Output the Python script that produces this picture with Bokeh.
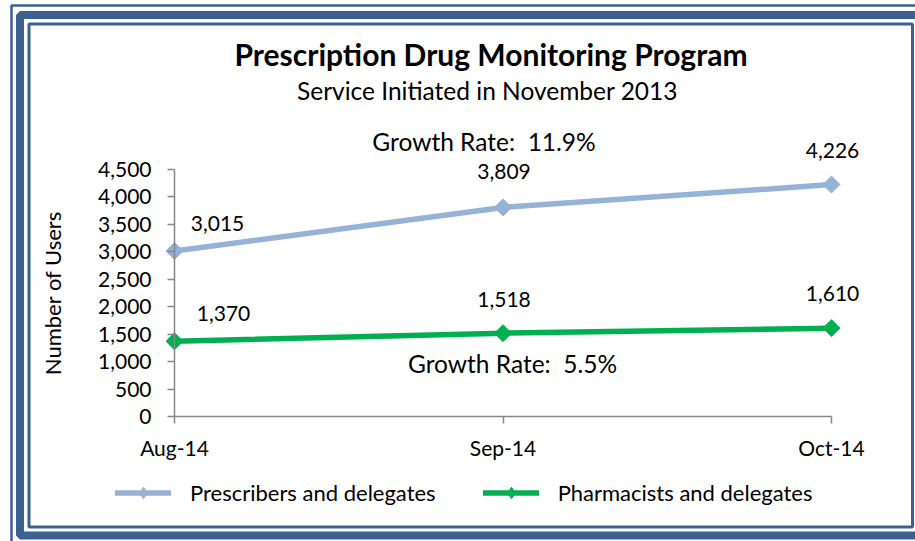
import math
from bokeh.plotting import figure
from bokeh.models import (Label, LabelSet, ColumnDataSource, Legend, LegendItem,
                          BoxAnnotation, FixedTicker, NumeralTickFormatter, Range1d)
from bokeh.core.properties import value
from bokeh.embed import file_html
from bokeh.resources import INLINE

# ---------------- data ----------------
months = ["Aug-14", "Sep-14", "Oct-14"]
prescribers = [3015, 3809, 4226]
pharmacists = [1370, 1518, 1610]
y_ticks = [0, 500, 1000, 1500, 2000, 2500, 3000, 3500, 4000, 4500]
series_names = ["Prescribers and delegates", "Pharmacists and delegates"]
title_text = "Prescription Drug Monitoring Program"
subtitle_text = "Service Initiated in November 2013"
growth_texts = ["Growth Rate:  11.9%", "Growth Rate:  5.5%"]
y_title = "Number of Users"

# ---------------- layout / style ----------------
FONT = "Lato"
W, H = 915, 541
# pixel positions of the axis corners on the canvas
AX_L, AX_R, AX_T, AX_B = 174, 831, 169, 416
BLUE = "#95B3D7"
GREEN = "#00B050"
AXIS = "#868686"
FRAME = "#3A6190"

xs = list(range(len(months)))
x_max = len(months) - 1
y_max = y_ticks[-1]
ppx = (AX_R - AX_L) / x_max          # pixels per x unit
ppy = (AX_B - AX_T) / y_max          # pixels per y unit


def data_x(px):
    return (px - AX_L) / ppx


def data_y(py):
    return (AX_B - py) / ppy


p = figure(width=W, height=H, output_backend="svg", toolbar_location=None,
           x_range=Range1d(data_x(0), data_x(W)), y_range=Range1d(data_y(H), data_y(0)),
           min_border=0, min_border_left=0, min_border_right=0,
           min_border_top=0, min_border_bottom=0)
p.outline_line_color = None
p.grid.visible = False
p.background_fill_color = "white"
p.border_fill_color = "white"

for ax in (p.xaxis[0], p.yaxis[0]):
    ax.axis_line_color = AXIS
    ax.axis_line_width = 1.5
    ax.major_tick_line_color = AXIS
    ax.major_tick_line_width = 1.5
    ax.major_tick_in = 0
    ax.major_tick_out = 7
    ax.minor_tick_line_color = None
    ax.major_label_text_font = FONT
    ax.major_label_text_color = "black"

p.xaxis.fixed_location = 0
p.xaxis.bounds = (0, x_max)
p.xaxis.ticker = FixedTicker(ticks=xs)
p.xaxis.major_label_overrides = {i: m for i, m in enumerate(months)}
p.xaxis.major_label_standoff = 11
p.xaxis.major_label_text_font_size = "21px"

p.yaxis.fixed_location = 0
p.yaxis.bounds = (0, y_max)
p.yaxis.ticker = FixedTicker(ticks=y_ticks)
p.yaxis.formatter = NumeralTickFormatter(format="0,0")
p.yaxis.major_label_standoff = 16
p.yaxis.major_label_text_font_size = "21px"
p.yaxis.axis_label = y_title
p.yaxis.axis_label_text_font = FONT
p.yaxis.axis_label_text_font_size = "22px"
p.yaxis.axis_label_text_font_style = "normal"
p.yaxis.axis_label_text_color = "black"
p.yaxis.axis_label_standoff = 29

# series
renderers = []
for vals, col in ((prescribers, BLUE), (pharmacists, GREEN)):
    line_r = p.line(xs, vals, line_color=col, line_width=5.5, line_cap="round")
    # small diamond used as the legend sample (hidden under the main marker)
    leg_m = p.scatter(xs, vals, marker="diamond", size=10, fill_color=col, line_color=col)
    p.scatter(xs, vals, marker="square", size=12, angle=math.pi / 4,
              fill_color=col, line_color=col)
    renderers.append([line_r, leg_m])

# data labels
dx_px = [43, 1, 1, 49, 1, 1]
dy_px = [20, 28, 27, 20, 26, 27]
src = ColumnDataSource(dict(
    x=xs + xs,
    y=prescribers + pharmacists,
    t=["{:,}".format(v) for v in prescribers + pharmacists],
    dx=dx_px, dy=dy_px))
p.add_layout(LabelSet(x="x", y="y", text="t", source=src, x_offset="dx", y_offset="dy",
                      text_align="center", text_baseline="alphabetic",
                      text_font=value(FONT), text_font_size="21px", text_color="black"))


def add_text(txt, px, py, size, bold=False):
    p.add_layout(Label(x=data_x(px), y=data_y(py), text=txt.replace("  ", "\u00a0 "),
                       text_align="center", text_baseline="alphabetic",
                       text_font=FONT, text_font_size=size,
                       text_font_style="bold" if bold else "normal", text_color="black"))


add_text(title_text, 490.5, 53, "30px", bold=True)
add_text(subtitle_text, 487, 90, "24.5px")
add_text(growth_texts[0], 483.5, 141, "24.5px")
add_text(growth_texts[1], 512, 363, "24.5px")

# legend
legend = Legend(items=[LegendItem(label=series_names[0], renderers=renderers[0]),
                       LegendItem(label=series_names[1], renderers=renderers[1])],
                orientation="horizontal", location=(115, 34),
                glyph_width=56, glyph_height=29, label_standoff=19, spacing=47,
                padding=0, margin=0, border_line_color=None, background_fill_alpha=0,
                label_text_font=FONT, label_text_font_size="22px", label_text_color="black")
p.add_layout(legend, "center")


# decorative frame (canvas units)
def frame_box(l, t, r, b, w):
    p.add_layout(BoxAnnotation(left=l, right=r, top=t, bottom=b,
                               left_units="canvas", right_units="canvas",
                               top_units="canvas", bottom_units="canvas",
                               fill_alpha=0, line_color=FRAME, line_width=w,
                               line_alpha=1, level="overlay"))


frame_box(28.5, 23.5, 912, 526.5, 3)
frame_box(19.5, 14.5, 950, 535, 8)
frame_box(11, 5, 960, 560, 2.5)

open("out.html", "w").write(file_html(p, INLINE))
